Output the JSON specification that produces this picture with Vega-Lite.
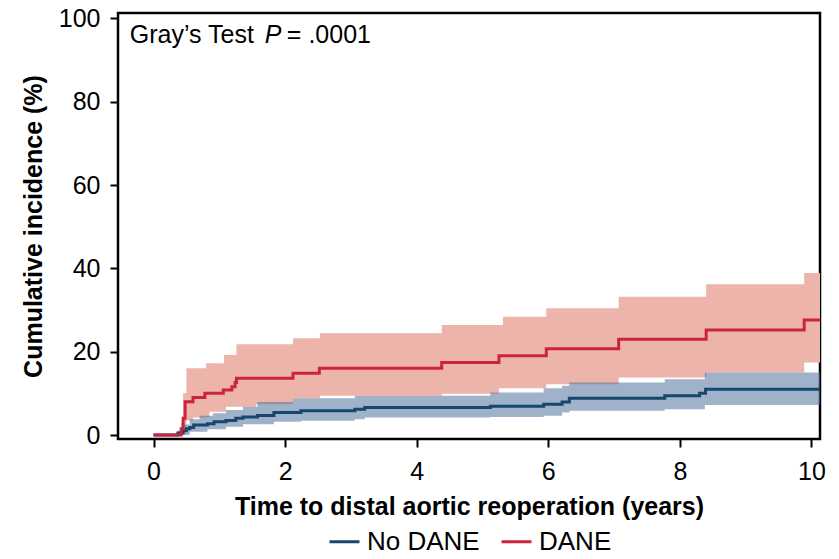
{
  "$schema": "https://vega.github.io/schema/vega-lite/v6.json",
  "autosize": {"type": "none"},
  "padding": {"left": 118, "top": 13, "right": 19, "bottom": 120},
  "width": 702,
  "height": 426,
  "background": "white",
  "config": {
    "font": "Liberation Sans",
    "view": {"stroke": "black", "strokeWidth": 2.5},
    "axis": {"grid": false, "domain": false, "tickColor": "black", "tickWidth": 2, "tickSize": 8,
      "labelFont": "Liberation Sans", "labelFontSize": 25, "labelColor": "black",
      "titleFont": "Liberation Sans", "titleFontSize": 25, "titleFontWeight": "bold", "titleColor": "black"}
  },
  "datasets": {
    "lines": [
      {"group": "No DANE", "t": 0, "est": 0},
      {"group": "No DANE", "t": 0.37, "est": 0.5},
      {"group": "No DANE", "t": 0.45, "est": 1.0},
      {"group": "No DANE", "t": 0.5, "est": 1.5},
      {"group": "No DANE", "t": 0.55, "est": 1.8},
      {"group": "No DANE", "t": 0.61, "est": 2.4},
      {"group": "No DANE", "t": 0.82, "est": 2.7},
      {"group": "No DANE", "t": 0.92, "est": 3.2},
      {"group": "No DANE", "t": 1.1, "est": 3.5},
      {"group": "No DANE", "t": 1.25, "est": 4.0},
      {"group": "No DANE", "t": 1.36, "est": 4.3},
      {"group": "No DANE", "t": 1.58, "est": 4.7},
      {"group": "No DANE", "t": 1.83, "est": 5.4},
      {"group": "No DANE", "t": 2.24, "est": 5.8},
      {"group": "No DANE", "t": 3.06, "est": 6.2},
      {"group": "No DANE", "t": 3.21, "est": 6.6},
      {"group": "No DANE", "t": 5.12, "est": 6.9},
      {"group": "No DANE", "t": 5.93, "est": 7.4},
      {"group": "No DANE", "t": 6.21, "est": 7.9},
      {"group": "No DANE", "t": 6.32, "est": 8.8},
      {"group": "No DANE", "t": 7.77, "est": 9.4},
      {"group": "No DANE", "t": 8.3, "est": 10.0},
      {"group": "No DANE", "t": 8.39, "est": 11.0},
      {"group": "No DANE", "t": 10.13, "est": 11.0},
      {"group": "DANE", "t": 0, "est": 0},
      {"group": "DANE", "t": 0.42, "est": 1.5},
      {"group": "DANE", "t": 0.45, "est": 4.0},
      {"group": "DANE", "t": 0.48, "est": 8.0},
      {"group": "DANE", "t": 0.6, "est": 9.0},
      {"group": "DANE", "t": 0.78, "est": 10.0},
      {"group": "DANE", "t": 1.06, "est": 10.8},
      {"group": "DANE", "t": 1.19, "est": 11.6},
      {"group": "DANE", "t": 1.24, "est": 12.6},
      {"group": "DANE", "t": 1.26, "est": 13.6},
      {"group": "DANE", "t": 2.12, "est": 14.8},
      {"group": "DANE", "t": 2.52, "est": 16.0},
      {"group": "DANE", "t": 4.38, "est": 17.4},
      {"group": "DANE", "t": 5.25, "est": 19.0},
      {"group": "DANE", "t": 5.97, "est": 20.7},
      {"group": "DANE", "t": 7.07, "est": 23.0},
      {"group": "DANE", "t": 8.4, "est": 25.2},
      {"group": "DANE", "t": 9.89, "est": 27.6},
      {"group": "DANE", "t": 10.13, "est": 27.6}
    ],
    "bandDane": [
      {"t": 0, "lo": 0, "hi": 0},
      {"t": 0.42, "lo": 0, "hi": 3},
      {"t": 0.45, "lo": 1.5, "hi": 10},
      {"t": 0.5, "lo": 3.5, "hi": 16},
      {"t": 0.6, "lo": 4.2, "hi": 16},
      {"t": 0.8, "lo": 4.2, "hi": 17.2},
      {"t": 0.85, "lo": 5.6, "hi": 17.2},
      {"t": 1.07, "lo": 5.6, "hi": 19.2},
      {"t": 1.1, "lo": 6.8, "hi": 19.2},
      {"t": 1.26, "lo": 6.8, "hi": 21.8},
      {"t": 1.56, "lo": 7.4, "hi": 21.8},
      {"t": 2.12, "lo": 8.8, "hi": 23.2},
      {"t": 2.53, "lo": 9.4, "hi": 24.4},
      {"t": 4.38, "lo": 9.9, "hi": 26.4},
      {"t": 5.25, "lo": 11.2, "hi": 26.4},
      {"t": 5.31, "lo": 11.2, "hi": 28.4},
      {"t": 5.97, "lo": 12.2, "hi": 30.4},
      {"t": 7.07, "lo": 13.8, "hi": 33.2},
      {"t": 8.4, "lo": 15.0, "hi": 36.2},
      {"t": 9.89, "lo": 17.4, "hi": 38.9},
      {"t": 10.13, "lo": 17.4, "hi": 38.9}
    ],
    "bandNo": [
      {"t": 0, "lo": 0, "hi": 0},
      {"t": 0.37, "lo": 0, "hi": 1},
      {"t": 0.45, "lo": 0, "hi": 2.5},
      {"t": 0.55, "lo": 0.8, "hi": 3.8},
      {"t": 0.7, "lo": 0.8, "hi": 4.6},
      {"t": 0.82, "lo": 1.4, "hi": 4.6},
      {"t": 0.9, "lo": 1.4, "hi": 5.2},
      {"t": 1.1, "lo": 2.0, "hi": 6.0},
      {"t": 1.36, "lo": 2.6, "hi": 6.8},
      {"t": 1.58, "lo": 2.6, "hi": 7.9},
      {"t": 1.83, "lo": 3.2, "hi": 7.9},
      {"t": 2.12, "lo": 3.2, "hi": 8.8},
      {"t": 2.24, "lo": 3.4, "hi": 8.8},
      {"t": 3.06, "lo": 3.8, "hi": 9.4},
      {"t": 3.21, "lo": 4.2, "hi": 9.4},
      {"t": 5.12, "lo": 4.3, "hi": 10.2},
      {"t": 5.93, "lo": 4.6, "hi": 11.2},
      {"t": 6.21, "lo": 5.4, "hi": 11.8},
      {"t": 6.32, "lo": 5.8, "hi": 12.6},
      {"t": 7.77, "lo": 6.2, "hi": 13.4},
      {"t": 8.38, "lo": 7.2, "hi": 15.0},
      {"t": 10.13, "lo": 7.2, "hi": 15.0}
    ],
    "note": [
      {"t": -0.36, "y": 96}
    ]
  },
  "layer": [
    {
      "data": {"name": "bandDane"},
      "mark": {"type": "area", "interpolate": "step-after", "color": "#ecb4aa", "opacity": 1, "clip": true},
      "encoding": {
        "x": {"field": "t", "type": "quantitative", "scale": {"domain": [-0.54, 10.13], "nice": false, "zero": false},
          "axis": {"values": [0, 2, 4, 6, 8, 10], "format": "d", "title": "Time to distal aortic reoperation (years)", "labelPadding": 12, "titlePadding": 10}},
        "y": {"field": "hi", "type": "quantitative", "scale": {"domain": [-0.96, 101.3], "nice": false, "zero": false},
          "axis": {"values": [0, 20, 40, 60, 80, 100], "format": "d", "title": "Cumulative incidence (%)", "labelPadding": 10, "titlePadding": 12}},
        "y2": {"field": "lo"}
      }
    },
    {
      "data": {"name": "bandNo"},
      "mark": {"type": "area", "interpolate": "step-after", "color": "#52739f", "opacity": 0.55, "clip": true},
      "encoding": {
        "x": {"field": "t", "type": "quantitative"},
        "y": {"field": "hi", "type": "quantitative"},
        "y2": {"field": "lo"}
      }
    },
    {
      "data": {"name": "lines"},
      "mark": {"type": "line", "interpolate": "step-after", "strokeWidth": 3, "clip": true},
      "encoding": {
        "x": {"field": "t", "type": "quantitative"},
        "y": {"field": "est", "type": "quantitative"},
        "color": {"field": "group", "type": "nominal",
          "scale": {"domain": ["No DANE", "DANE"], "range": ["#17476f", "#cc2440"]},
          "legend": {"title": null, "orient": "none", "direction": "horizontal", "legendX": 210, "legendY": 512,
            "symbolType": "stroke", "symbolSize": 900, "symbolStrokeWidth": 3, "labelFontSize": 26,
            "labelFont": "Liberation Sans", "labelColor": "black", "columnPadding": 15, "labelOffset": 6}},
        "order": {"field": "group", "sort": "descending"}
      }
    },
    {
      "data": {"name": "note"},
      "mark": {"type": "text", "align": "left", "baseline": "middle", "fontSize": 25, "font": "Liberation Sans", "color": "black"},
      "encoding": {"x": {"field": "t", "type": "quantitative"}, "y": {"field": "y", "type": "quantitative"}, "text": {"value": "Gray’s Test"}}
    },
    {
      "data": {"name": "note"},
      "mark": {"type": "text", "align": "left", "baseline": "middle", "fontSize": 25, "font": "Liberation Sans", "fontStyle": "italic", "color": "black", "dx": 135},
      "encoding": {"x": {"field": "t", "type": "quantitative"}, "y": {"field": "y", "type": "quantitative"}, "text": {"value": "P"}}
    },
    {
      "data": {"name": "note"},
      "mark": {"type": "text", "align": "left", "baseline": "middle", "fontSize": 25, "font": "Liberation Sans", "color": "black", "dx": 157},
      "encoding": {"x": {"field": "t", "type": "quantitative"}, "y": {"field": "y", "type": "quantitative"}, "text": {"value": "= .0001"}}
    }
  ]
}
